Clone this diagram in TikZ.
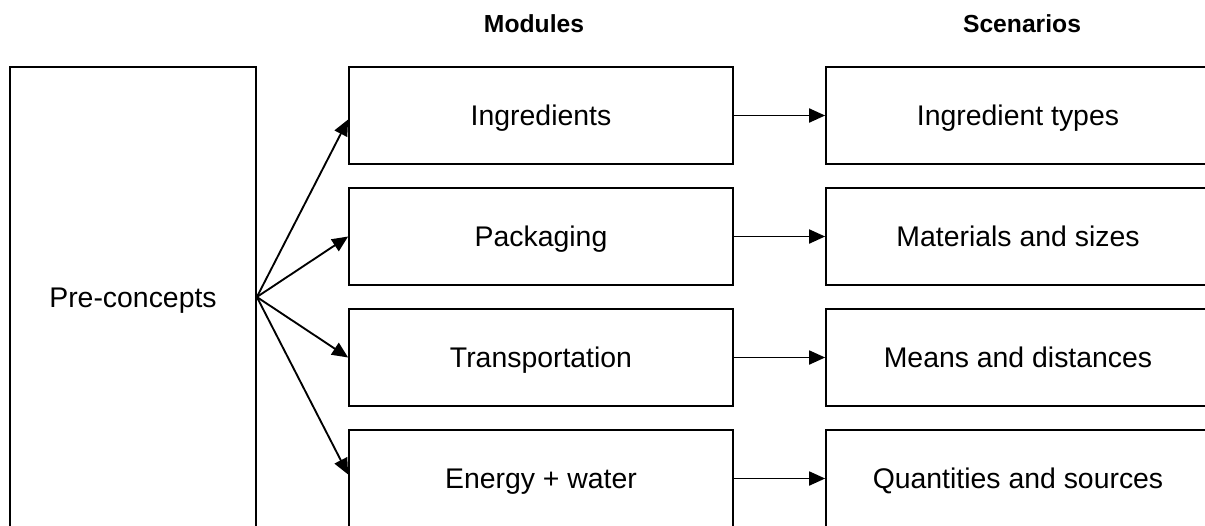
\documentclass[tikz,border=0pt]{standalone}
\usepackage{fontspec}
\setmainfont{Liberation Sans}
\usetikzlibrary{arrows.meta}
\usetikzlibrary{calc}

\begin{document}
\begin{tikzpicture}[x=0.75pt,y=0.75pt,yscale=-1,xscale=1,
  box/.style={draw, line width=1.3pt, inner sep=0.75pt, text height=15pt, text depth=0pt, minimum width=288pt, minimum height=72.75pt, font=\fontsize{21.3}{25}\selectfont},
  head/.style={inner sep=0.75pt, font=\bfseries\fontsize{18.5}{22}\selectfont},
  arr/.style={line width=1.4pt, -{Triangle[length=12pt,width=10.5pt]}}]
%set diagram left start at 0, and has height of 525
\useasboundingbox (0,0) rectangle (1205,525);
\clip (0,0) rectangle (1205,525);

%Shape: Rectangle [pre-concepts]
\node [box, minimum width=184.5pt, minimum height=345pt] (pre) at (133,297) {Pre-concepts};

%Shape: Rectangle [modules]
\node [box] (ingr) at (541,115.5) {Ingredients};
\node [box] (pack) at (541,236.5) {Packaging};
\node [box] (trans) at (541,357.5) {Transportation};
\node [box] (energy) at (541,478.5) {Energy + water};

%Shape: Rectangle [scenarios]
\node [box] (types) at (1018,115.5) {Ingredient types};
\node [box] (sizes) at (1018,236.5) {Materials and sizes};
\node [box] (means) at (1018,357.5) {Means and distances};
\node [box] (sources) at (1018,478.5) {Quantities and sources};

% Text Node
\node [head] (modhead) at (534,24) {Modules};
% Text Node
\node [head] (scenhead) at (1022,24) {Scenarios};

%Straight Lines [fan out]
\draw [arr] (pre.east) -- ($(ingr.west)+(0,4)$);
\draw [arr] (pre.east) -- (pack.west);
\draw [arr] (pre.east) -- (trans.west);
\draw [arr] (pre.east) -- ($(energy.west)+(0,-4)$);

%Straight Lines [module to scenario]
\draw [arr] (ingr.east) -- (types.west);
\draw [arr] (pack.east) -- (sizes.west);
\draw [arr] (trans.east) -- (means.west);
\draw [arr] (energy.east) -- (sources.west);

\end{tikzpicture}
\end{document}
